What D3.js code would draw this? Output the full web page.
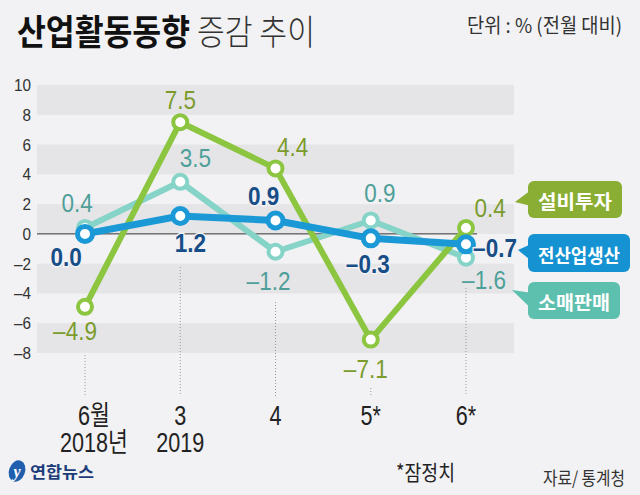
<!DOCTYPE html>
<html><head><meta charset="utf-8">
<script src="https://cdn.jsdelivr.net/npm/d3@7"></script>
<style>
html,body{margin:0;padding:0;background:#f2f2f4;}
svg{display:block;}
</style></head>
<body>
<svg id="chart" width="640" height="495"></svg>
<script>
// ---- data ----
const categories = ["6월", "3", "4", "5*", "6*"];
const categoryYears = ["2018년", "2019", "", "", ""];
const facilityInvestment = [-4.9, 7.5, 4.4, -7.1, 0.4]; // 설비투자
const allIndustryProduction = [0.0, 1.2, 0.9, -0.3, -0.7]; // 전산업생산
const retailSales = [0.4, 3.5, -1.2, 0.9, -1.6]; // 소매판매
const yTicks = [10, 8, 6, 4, 2, 0, -2, -4, -6, -8];
const seriesNames = ["설비투자", "전산업생산", "소매판매"];

// ---- layout / style ----
const W = 640, H = 495;
const svg = d3.select("#chart");
const NUM = "'Liberation Sans','Arial',sans-serif";
const KR = "'Noto Sans CJK KR','Noto Sans',sans-serif";
svg.append("rect").attr("width", W).attr("height", H).attr("fill", "#f2f2f4");

const x = d3.scalePoint().domain(categories).range([85, 466]);
const y = d3.scaleLinear().domain([-8, 10]).range([353, 85]);
const bandX0 = 37, bandX1 = 514;

// condensed text helper
function ctext(parent, tx, ty, sx) {
  return parent.append("text").attr("transform", `translate(${tx},${ty}) scale(${sx},1)`);
}

// bands
const bandPairs = d3.range(0, yTicks.length - 1, 2).map(i => [yTicks[i + 1], yTicks[i]]);
svg.append("g").selectAll("rect").data(bandPairs).join("rect")
  .attr("x", bandX0).attr("width", bandX1 - bandX0)
  .attr("y", d => y(d[1])).attr("height", d => y(d[0]) - y(d[1]))
  .attr("fill", "#e5e5e8");

// y axis (labels only)
const yAxis = d3.axisLeft(y).tickValues(yTicks).tickSize(0).tickPadding(0)
  .tickFormat(d => d < 0 ? "\u2013" + Math.abs(d) : d);
const yg = svg.append("g").attr("transform", "translate(31,0)").call(yAxis);
yg.select(".domain").remove();
yg.selectAll("text").attr("font-family", NUM).attr("font-size", 17).attr("fill", "#333")
  .attr("transform", "scale(0.9,1)").attr("x", 0);

// zero line
svg.append("line").attr("x1", bandX0).attr("x2", 477).attr("y1", y(0)).attr("y2", y(0))
  .attr("stroke", "#333").attr("stroke-width", 1);

// dotted guide lines
const guideTop = [355, 267, 302, 388, 288];
svg.append("g").selectAll("line").data(categories).join("line")
  .attr("x1", d => x(d)).attr("x2", d => x(d))
  .attr("y1", (d, i) => guideTop[i]).attr("y2", 396)
  .attr("stroke", "#999").attr("stroke-width", 1).attr("stroke-dasharray", "1,2");

// x axis labels
const xg = svg.append("g");
categories.forEach((c, i) => {
  const cx = x(c) + (i === 0 ? 9 : 0);
  ctext(xg, cx, 425, 0.8).attr("text-anchor", "middle").attr("font-family", NUM + "," + KR)
    .attr("font-size", 27).attr("fill", "#222").text(c);
  if (categoryYears[i]) {
    ctext(xg, cx, 452, 0.8).attr("text-anchor", "middle").attr("font-family", NUM + "," + KR)
      .attr("font-size", 27).attr("fill", "#222").text(categoryYears[i]);
  }
});

// series
const series = [
  {name: seriesNames[2], values: retailSales, line: "#86d3c8", label: "#4e9f98", bold: false, r: 7, sw: 4, lw: 6,
   off: [[-8, -25], [15, -24], [-7, 29], [9, -27], [18, 22]]},
  {name: seriesNames[0], values: facilityInvestment, line: "#8cc540", label: "#7b9b2d", bold: false, r: 7, sw: 4, lw: 6,
   off: [[-10, 24], [0, -22], [17, -21], [-5, 29], [24, -20]]},
  {name: seriesNames[1], values: allIndustryProduction, line: "#1a99d6", label: "#174e87", bold: true, r: 7.5, sw: 5, lw: 7,
   off: [[-19, 23], [10, 27], [-12, -24], [-3, 26], [29, 4]]}
];
const line = d3.line().x((d, i) => x(categories[i])).y(d => y(d));

series.forEach(s => {
  const g = svg.append("g");
  g.append("path").attr("d", line(s.values)).attr("fill", "none")
    .attr("stroke", s.line).attr("stroke-width", s.lw).attr("stroke-linejoin", "round");
  g.selectAll("circle").data(s.values).join("circle")
    .attr("cx", (d, i) => x(categories[i])).attr("cy", d => y(d)).attr("r", s.r)
    .attr("fill", "#fff").attr("stroke", s.line).attr("stroke-width", s.sw);
});
// labels on top
series.forEach(s => {
  const g = svg.append("g");
  s.values.forEach((d, i) => {
    ctext(g, x(categories[i]) + s.off[i][0], y(d) + s.off[i][1] + 9, 0.9)
      .attr("text-anchor", "middle")
      .attr("font-family", NUM).attr("font-size", 25)
      .attr("font-weight", s.bold ? "bold" : "normal")
      .attr("fill", s.label)
      .attr("paint-order", "stroke").attr("stroke", "#f2f2f4").attr("stroke-width", s.bold ? 3 : 0)
      .text(d < 0 ? "\u2013" + Math.abs(d).toFixed(1) : d.toFixed(1));
  });
});

// legend callouts
const legend = [
  {name: seriesNames[0], fill: "#8aae33", y0: 181, y1: 218, w: 94, tipY: 202, tipX: 515},
  {name: seriesNames[1], fill: "#1592d1", y0: 234, y1: 272, w: 102, tipY: 250, tipX: 518},
  {name: seriesNames[2], fill: "#5dbfae", y0: 282, y1: 319, w: 92, tipY: 290, tipX: 512}
];
legend.forEach(l => {
  const g = svg.append("g");
  const bx = 528;
  g.append("rect").attr("x", bx).attr("y", l.y0).attr("width", l.w).attr("height", l.y1 - l.y0)
    .attr("rx", 6).attr("fill", l.fill);
  const my = (l.y0 + l.y1) / 2;
  g.append("path").attr("d", `M${bx + 1},${my - 8} L${l.tipX},${l.tipY} L${bx + 1},${my + 6} Z`).attr("fill", l.fill);
  g.append("text").attr("x", bx + l.w / 2).attr("y", my + 1).attr("text-anchor", "middle")
    .attr("dominant-baseline", "central").attr("font-family", KR).attr("font-weight", "bold")
    .attr("font-size", 19).attr("fill", "#fff")
    .attr("textLength", l.w - 20).attr("lengthAdjust", "spacingAndGlyphs").text(l.name);
});

// title
svg.append("text").attr("x", 17).attr("y", 45).attr("font-family", KR).attr("font-weight", "bold")
  .attr("font-size", 35).attr("fill", "#111")
  .attr("textLength", 173).attr("lengthAdjust", "spacingAndGlyphs").text("산업활동동향");
svg.append("text").attr("x", 197).attr("y", 45).attr("font-family", KR).attr("font-weight", 300)
  .attr("font-size", 35).attr("fill", "#333")
  .attr("textLength", 118).attr("lengthAdjust", "spacingAndGlyphs").text("증감 추이");
svg.append("text").attr("x", 467).attr("y", 33).attr("font-family", KR).attr("font-size", 20)
  .attr("fill", "#333").attr("textLength", 155).attr("lengthAdjust", "spacingAndGlyphs").text("단위 : % (전월 대비)");

// footer
svg.append("text").attr("x", 396).attr("y", 480).attr("font-family", KR).attr("font-size", 21)
  .attr("fill", "#222").attr("textLength", 59).attr("lengthAdjust", "spacingAndGlyphs").text("*잠정치");
svg.append("text").attr("x", 543).attr("y", 485).attr("font-family", KR).attr("font-size", 18)
  .attr("fill", "#333").attr("textLength", 82).attr("lengthAdjust", "spacingAndGlyphs").text("자료/ 통계청");
// logo
const logo = svg.append("g");
logo.append("ellipse").attr("cx", 17).attr("cy", 471).attr("rx", 8).attr("ry", 11)
  .attr("transform", "rotate(20,17,471)").attr("fill", "#1f5fae");
logo.append("text").attr("x", 17).attr("y", 477).attr("text-anchor", "middle").attr("font-family", "serif")
  .attr("font-style", "italic").attr("font-weight", "bold").attr("font-size", 16).attr("fill", "#fff").text("y");
logo.append("text").attr("x", 30).attr("y", 478).attr("font-family", KR).attr("font-weight", "bold")
  .attr("font-size", 16).attr("fill", "#1d3d7a").attr("textLength", 64).attr("lengthAdjust", "spacingAndGlyphs").text("연합뉴스");
</script>
</body></html>
